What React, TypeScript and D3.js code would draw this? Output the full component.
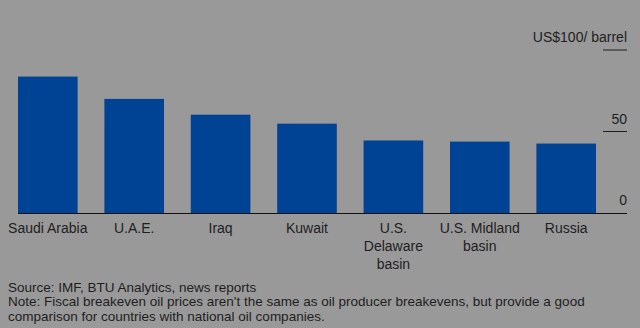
import React from "react";
import * as d3 from "d3";

const categories = ["Saudi Arabia", "U.A.E.", "Iraq", "Kuwait", "U.S. Delaware basin", "U.S. Midland basin", "Russia"];
const categoryLines = [["Saudi Arabia"], ["U.A.E."], ["Iraq"], ["Kuwait"], ["U.S.", "Delaware", "basin"], ["U.S. Midland", "basin"], ["Russia"]];
const values = [83.7, 70, 60.3, 54.8, 44.5, 43.8, 42.6];
const tickValues = [0, 50, 100];
const tickLabels = ["0", "50", "US$100/ barrel"];
const sourceLines = [
  "Source: IMF, BTU Analytics, news reports",
  "Note: Fiscal breakeven oil prices aren't the same as oil producer breakevens, but provide a good",
  "comparison for countries with national oil companies.",
];

const W = 640;
const H = 328;
const BG = "#999999";
const BAR = "#004395";
const TEXT = "#1e1e1e";
const FONT = "'Liberation Sans', Arial, sans-serif";

export default function App() {
  const x = d3.scaleBand<string>().domain(categories).range([18, 596]).paddingInner(0.31).paddingOuter(0);
  const y = d3.scaleLinear().domain([0, 100]).range([213, 50]);

  return (
    <div style={{ position: "fixed", left: 0, top: 0, width: W, height: H }}>
      <svg width={W} height={H} style={{ display: "block" }}>
        <rect x={0} y={0} width={W} height={H} fill={BG} />
        {categories.map((c, i) => (
          <rect key={c} x={x(c)} y={y(values[i])} width={x.bandwidth()} height={y(0) - y(values[i])} fill={BAR} />
        ))}
        {tickValues.map((t, i) => (
          <g key={t}>
            {t !== 0 && <line x1={603} x2={627} y1={y(t)} y2={y(t)} stroke={TEXT} strokeWidth={1} />}
            <text x={627} y={y(t) - 8} textAnchor="end" fontFamily={FONT} fontSize={14} fill={TEXT}>
              {tickLabels[i]}
            </text>
          </g>
        ))}
        <line x1={18} x2={627} y1={y(0) + 0.5} y2={y(0) + 0.5} stroke="#111" strokeWidth={1.2} />
        {categories.map((c, i) => (
          <text key={c} x={(x(c) as number) + x.bandwidth() / 2} textAnchor="middle" fontFamily={FONT} fontSize={14} fill={TEXT}>
            {categoryLines[i].map((l, j) => (
              <tspan key={j} x={(x(c) as number) + x.bandwidth() / 2} y={233 + j * 18}>
                {l}
              </tspan>
            ))}
          </text>
        ))}
        {sourceLines.map((l, i) => (
          <text key={i} x={8} y={291.5 + i * 14.5} fontFamily={FONT} fontSize={13.5} fill={TEXT}>
            {l}
          </text>
        ))}
      </svg>
    </div>
  );
}
